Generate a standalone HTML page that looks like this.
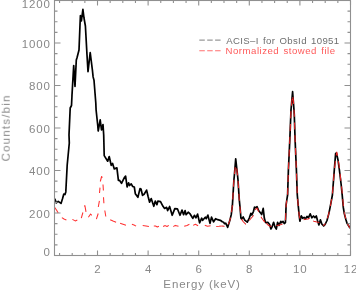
<!DOCTYPE html>
<html><head><meta charset="utf-8"><style>
html,body{margin:0;padding:0;background:#fff;width:356px;height:291px;overflow:hidden}
svg{display:block}
text{font-family:"Liberation Sans",sans-serif;will-change:transform}
</style></head><body>
<svg width="356" height="291" viewBox="0 0 356 291">
<defs><filter id="bl" x="0" y="0" width="100%" height="100%"><feGaussianBlur stdDeviation="0.3"/></filter></defs>
<rect width="356" height="291" fill="#fff"/>
<g filter="url(#bl)">
<rect width="356" height="291" fill="#fff"/>
<g fill="#888888" font-size="11.5" letter-spacing="0.85">
<text x="97.93" y="273.2" text-anchor="middle">2</text><text x="148.53" y="273.2" text-anchor="middle">4</text><text x="199.13" y="273.2" text-anchor="middle">6</text><text x="249.73" y="273.2" text-anchor="middle">8</text><text x="300.33" y="273.2" text-anchor="middle">10</text><text x="350.93" y="273.2" text-anchor="middle">12</text>
<text x="50.75" y="255.90" text-anchor="end">0</text><text x="50.75" y="217.60" text-anchor="end">200</text><text x="50.75" y="175.10" text-anchor="end">400</text><text x="50.75" y="132.60" text-anchor="end">600</text><text x="50.75" y="90.10" text-anchor="end">800</text><text x="50.75" y="47.60" text-anchor="end">1000</text><text x="50.75" y="8.20" text-anchor="end">1200</text>
<text x="202.03" y="288" text-anchor="middle">Energy (keV)</text>
<text transform="translate(9.7,127.9) rotate(-90)" text-anchor="middle" letter-spacing="1.2">Counts/bin</text>
</g>
<g font-size="9.6" letter-spacing="0.35" word-spacing="1.2">
<path d="M199.3,40.1H220.6" stroke="#999" stroke-width="1.1" stroke-dasharray="5.5 2.4"/>
<text x="226.3" y="44.1" fill="#6e6e6e">ACIS&#8211;I for ObsId 10951</text>
<path d="M199.3,50.8H220.6" stroke="#ff7070" stroke-width="1.1" stroke-dasharray="5.5 2.4"/>
<text x="225.6" y="54.4" fill="#ff5a5a" letter-spacing="0.5">Normalized stowed file</text>
</g>
<polyline points="54.50,199.10 54.90,199.10 56.30,202.90 58.20,201.40 61.00,203.40 62.50,198.80 63.80,194.00 65.00,194.50 65.80,191.90 66.00,188.00 67.20,165.00 69.30,143.00 69.00,135.00 70.20,108.00 71.50,105.50 72.00,95.00 73.70,65.50 75.00,86.40 76.30,60.00 77.00,57.70 79.00,50.00 80.00,25.00 80.40,15.70 81.40,20.80 82.90,9.30 84.00,18.00 85.40,26.00 87.00,55.00 88.00,71.60 90.20,52.60 92.40,70.00 93.10,76.90 94.00,80.30 95.80,103.00 96.10,110.00 97.70,125.00 98.20,131.00 100.20,119.80 101.50,130.00 103.00,124.50 103.70,135.00 104.20,155.60 107.70,161.20 109.20,156.50 111.20,165.30 112.60,163.50 114.30,168.90 116.90,167.90 118.40,180.30 119.50,180.30 121.50,183.40 124.60,177.20 125.60,176.10 127.10,187.00 128.60,182.90 129.60,185.50 131.20,183.90 132.70,186.50 134.30,187.00 135.30,193.70 137.90,197.30 140.00,188.60 141.00,189.00 142.50,195.30 144.10,194.20 146.60,190.10 148.10,196.50 149.60,202.20 151.20,198.60 152.20,201.60 153.80,206.30 155.30,201.10 156.90,204.70 157.90,201.10 160.50,201.60 163.00,206.30 164.60,208.40 166.60,207.30 167.60,210.60 169.60,206.50 172.20,215.30 174.80,208.60 177.40,208.80 180.00,215.30 182.00,210.10 183.60,214.70 185.10,210.60 186.10,214.70 188.20,212.20 190.30,214.20 192.80,218.40 194.40,215.30 195.90,217.80 197.60,214.10 199.60,222.80 201.70,218.20 202.70,220.30 205.30,217.20 206.30,218.70 207.90,215.10 210.00,223.40 211.50,217.20 213.60,221.80 215.60,218.70 217.70,219.70 220.30,220.30 222.30,221.80 223.60,222.20 224.60,223.70 225.70,223.20 227.70,227.30 229.80,220.60 231.30,214.40 232.40,205.20 233.90,180.00 234.40,175.00 235.70,158.80 237.50,175.00 238.00,180.00 239.30,200.00 240.10,208.20 240.90,218.00 241.60,219.10 243.20,217.00 244.70,220.10 247.30,222.20 249.30,218.00 250.90,213.40 251.90,215.00 253.50,211.30 254.50,207.20 256.00,207.70 257.10,206.70 258.60,210.50 260.40,212.80 261.70,214.50 263.20,208.40 264.30,218.00 265.30,221.80 266.00,222.70 267.80,222.30 269.60,224.50 270.90,229.00 272.00,227.00 273.60,222.30 274.90,226.80 276.30,229.00 277.60,222.30 279.00,225.40 280.80,221.40 281.60,222.70 283.00,221.40 284.30,223.60 285.40,222.70 285.70,216.90 286.10,205.00 286.80,200.00 287.60,195.00 288.40,170.00 289.80,140.00 291.00,110.00 292.60,91.70 294.00,110.00 294.30,115.00 295.10,140.00 296.40,170.00 297.30,195.00 298.20,205.30 299.20,215.60 299.90,221.20 301.30,215.90 302.70,218.30 304.10,217.40 305.60,218.80 307.00,216.40 308.40,217.80 310.20,213.80 311.80,217.80 313.50,216.00 315.00,217.60 316.30,215.90 317.50,220.50 318.90,225.00 320.40,219.80 321.80,224.00 323.70,226.00 325.10,224.50 327.00,220.50 328.70,214.10 329.70,209.40 330.90,203.20 332.40,195.00 334.30,170.00 335.60,153.70 336.40,153.00 338.00,160.00 339.40,170.00 341.20,185.00 342.20,195.00 343.30,207.40 344.30,213.60 345.80,219.20 347.10,223.40 349.70,227.50 350.50,228.00" fill="none" stroke="#000" stroke-width="1.7" stroke-linejoin="round"/>
<path d="M54.60,207.40L56.50,210.00L58.20,213.00M61.90,217.60L64.00,219.00L66.40,220.00M72.40,219.40L75.20,220.90L77.30,220.00M81.30,218.20L82.90,212.50M84.30,206.50L84.90,205.60L86.00,211.80M88.40,217.20L90.60,214.00L91.80,215.30M96.40,219.20L98.20,213.50M98.30,207.00L99.40,200.80M99.50,193.00L100.00,187.60M100.30,181.50L101.60,176.50L102.40,177.60M103.00,184.50L103.40,190.50M103.50,197.20L103.90,203.20M104.80,210.50L105.80,216.50M110.20,219.80L113.00,221.00L116.10,222.20M120.10,223.30L123.00,224.30L126.00,225.30M131.90,224.30L134.00,225.00L136.10,226.10M142.70,225.60L146.00,225.90L148.90,226.40M153.80,225.90L155.50,226.00L157.30,227.00L158.90,226.20M163.10,226.50L165.20,225.60L167.00,226.50L168.80,225.40M173.30,226.60L175.20,225.40L178.50,226.20M184.20,226.20L187.00,225.40L189.40,224.30M193.10,225.40L195.40,224.30L198.10,225.70M204.80,225.30L207.50,226.30L210.60,225.70M216.20,226.60L219.00,226.30L221.80,225.90" fill="none" stroke="#ff3030" stroke-width="1.05" stroke-linejoin="round"/>
<path d="M221.80,225.90L224.00,226.30L224.43,226.39M228.27,224.34L229.80,220.60L230.50,217.72M231.56,212.23L232.40,205.20L232.40,205.17M232.74,199.55L233.16,192.44M233.49,186.82L233.90,180.00L233.93,179.72M234.49,174.12L235.10,168.00L235.32,167.07M236.64,168.35L237.50,175.00L237.54,175.40M238.07,181.00L238.53,188.11M238.89,193.72L239.30,200.00L239.37,200.83M239.87,206.43L240.10,209.00L240.72,213.49M241.77,218.97L242.10,220.10L243.50,222.00L245.70,224.20L245.77,224.15M249.37,220.45L250.00,219.50L253.50,215.50L253.57,215.25M255.08,209.92L257.00,208.00L258.73,211.71M261.06,216.66L261.70,218.00L263.50,220.50L265.07,222.00M266.28,223.20L268.00,225.00L270.00,226.30L271.57,226.30M276.41,225.57L277.20,225.40L281.20,224.50L282.47,224.05M285.44,220.19L285.80,213.20L285.81,213.07M286.05,207.45L286.20,204.00L286.74,200.38M287.61,194.84L287.83,187.72M288.01,182.09L288.24,174.97M288.43,169.34L288.76,162.22M289.03,156.60L289.36,149.48M289.62,143.86L289.80,140.00L289.93,136.74M290.16,131.11L290.44,124.00M290.67,118.37L290.95,111.25M291.44,105.65L292.00,100.00L292.17,98.57M292.88,97.00L293.30,100.00L293.59,104.07M293.98,109.69L294.00,110.00L294.30,115.00L294.36,116.80M294.54,122.43L294.77,129.55M294.95,135.18L295.10,140.00L295.20,142.30M295.44,147.92L295.75,155.04M296.00,160.67L296.30,167.79M296.52,173.41L296.78,180.53M296.98,186.16L297.24,193.28M297.64,198.89L298.20,205.30L298.27,205.98M298.81,211.58L299.20,215.60L300.01,218.54M303.60,219.85L305.10,219.30L308.00,219.00L309.61,218.31M313.34,220.78L313.70,221.20L317.00,222.00L319.28,222.40M322.90,225.36L324.50,225.00M324.50,225.00L325.28,223.40M327.36,218.32L328.70,214.10L329.24,211.55M330.35,206.06L330.90,203.20L331.65,199.09M332.51,193.55L333.05,186.45M333.48,180.84L334.02,173.74M334.53,168.15L335.40,161.09M336.17,155.53L336.80,152.10L337.47,155.64M338.45,161.15L339.37,168.20M340.05,173.78L340.90,180.84M341.54,186.42L342.25,193.50M342.76,199.10L343.39,206.19M344.20,211.74L344.50,213.60L345.76,218.64M347.49,223.88L349.70,227.50L350.50,228.00" fill="none" stroke="#e82222" stroke-width="1.05" stroke-linejoin="round"/>
<rect x="54.5" y="0.5" width="296.0" height="255.0" fill="none" stroke="#909090" stroke-width="1.1"/>
<path d="M59.56,255.5v-2.5M59.56,0.5v2.5M72.21,255.5v-2.5M72.21,0.5v2.5M84.86,255.5v-2.5M84.86,0.5v2.5M97.51,255.5v-5M97.51,0.5v5M110.16,255.5v-2.5M110.16,0.5v2.5M122.81,255.5v-2.5M122.81,0.5v2.5M135.46,255.5v-2.5M135.46,0.5v2.5M148.11,255.5v-5M148.11,0.5v5M160.76,255.5v-2.5M160.76,0.5v2.5M173.41,255.5v-2.5M173.41,0.5v2.5M186.06,255.5v-2.5M186.06,0.5v2.5M198.71,255.5v-5M198.71,0.5v5M211.35,255.5v-2.5M211.35,0.5v2.5M224.00,255.5v-2.5M224.00,0.5v2.5M236.65,255.5v-2.5M236.65,0.5v2.5M249.30,255.5v-5M249.30,0.5v5M261.95,255.5v-2.5M261.95,0.5v2.5M274.60,255.5v-2.5M274.60,0.5v2.5M287.25,255.5v-2.5M287.25,0.5v2.5M299.90,255.5v-5M299.90,0.5v5M312.55,255.5v-2.5M312.55,0.5v2.5M325.20,255.5v-2.5M325.20,0.5v2.5M337.85,255.5v-2.5M337.85,0.5v2.5M350.50,255.5v-5M350.50,0.5v5M54.5,255.50h6M350.5,255.50h-6M54.5,244.88h3M350.5,244.88h-3M54.5,234.25h3M350.5,234.25h-3M54.5,223.62h3M350.5,223.62h-3M54.5,213.00h6M350.5,213.00h-6M54.5,202.38h3M350.5,202.38h-3M54.5,191.75h3M350.5,191.75h-3M54.5,181.12h3M350.5,181.12h-3M54.5,170.50h6M350.5,170.50h-6M54.5,159.88h3M350.5,159.88h-3M54.5,149.25h3M350.5,149.25h-3M54.5,138.62h3M350.5,138.62h-3M54.5,128.00h6M350.5,128.00h-6M54.5,117.38h3M350.5,117.38h-3M54.5,106.75h3M350.5,106.75h-3M54.5,96.12h3M350.5,96.12h-3M54.5,85.50h6M350.5,85.50h-6M54.5,74.88h3M350.5,74.88h-3M54.5,64.25h3M350.5,64.25h-3M54.5,53.62h3M350.5,53.62h-3M54.5,43.00h6M350.5,43.00h-6M54.5,32.38h3M350.5,32.38h-3M54.5,21.75h3M350.5,21.75h-3M54.5,11.12h3M350.5,11.12h-3M54.5,0.50h6M350.5,0.50h-6" stroke="#909090" stroke-width="1.1" fill="none"/>
</g>
</svg>
</body></html>
